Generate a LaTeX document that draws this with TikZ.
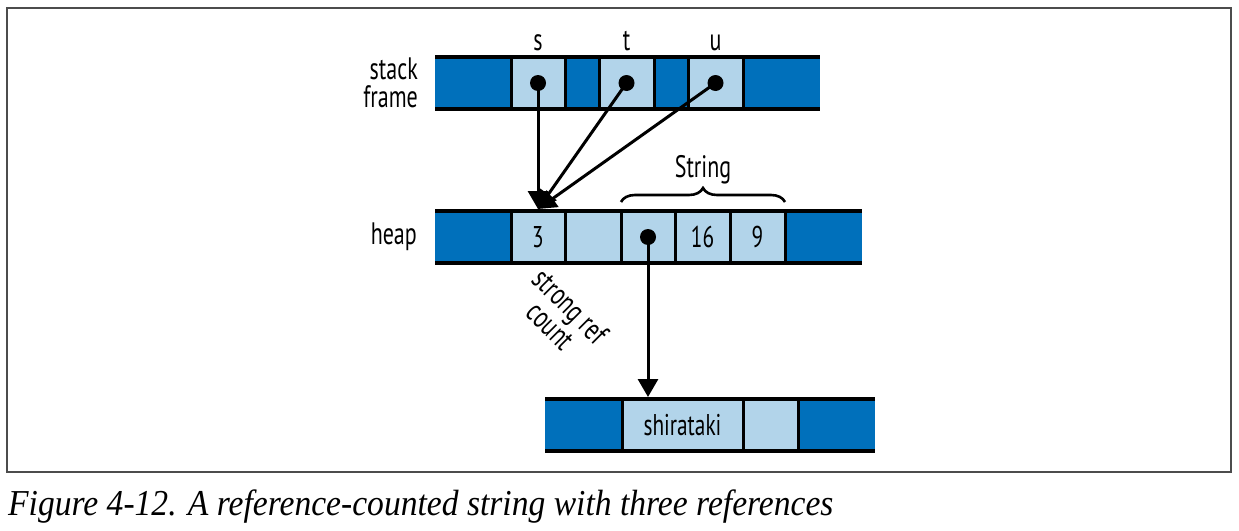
\documentclass[tikz,border=0pt]{standalone}
\usepackage{fontspec}
\setmainfont{PT Sans}[FakeStretch=0.71]
\newfontfamily\capfont{Liberation Serif}[FakeStretch=0.92]
\usepackage{tikz}
\usetikzlibrary{arrows.meta,positioning,decorations.pathreplacing,calc}
\definecolor{cellDark}{HTML}{0070BB}
\definecolor{cellLight}{HTML}{B2D4EA}

\begin{document}
\begin{tikzpicture}[x=1pt,y=-1pt,
  node distance=0pt,
  cell/.style={minimum height=52pt,inner sep=0pt,outer sep=0pt,
    font=\fontsize{30}{32}\selectfont},
  dk/.style={cell,fill=cellDark},
  lt/.style={cell,fill=cellLight},
  rowline/.style={line width=3.3pt},
  sep/.style={line width=3pt},
  dot/.style={circle,fill=black,inner sep=0pt,minimum size=16pt},
  arr/.style={-{Triangle[length=18pt,width=20pt]},line width=3pt},
  lbl/.style={font=\fontsize{31}{28}\selectfont,inner sep=0pt}]
\useasboundingbox (0,0) rectangle (1239,530);
\draw[black!70,line width=1.3pt] (7,8) rectangle (1231,472);

% stack frame
\node[dk,minimum width=76pt,anchor=west] (s0) at (435,83) {};
\node[lt,minimum width=54pt,right=of s0] (s1) {};
\node[dk,minimum width=34pt,right=of s1] (s2) {};
\node[lt,minimum width=55pt,right=of s2] (s3) {};
\node[dk,minimum width=34pt,right=of s3] (s4) {};
\node[lt,minimum width=55pt,right=of s4] (s5) {};
\node[dk,minimum width=77pt,right=of s5] (s6) {};
\draw[rowline] (s0.north west) -- (s6.north east);
\draw[rowline] (s0.south west) -- (s6.south east);
\foreach \c in {s1,s2,s3,s4,s5,s6}
  \draw[sep] (\c.north west) -- (\c.south west);
\node[lbl,align=right,left=17pt of s0] (stk) {stack\\frame};
\node[lbl,anchor=base] (ls) at ([yshift=7pt]s1.north) {s};
\node[lbl,anchor=base] (lt) at ([yshift=7pt]s3.north) {t};
\node[lbl,anchor=base] (lu) at ([yshift=7pt]s5.north) {u};

% heap
\node[dk,minimum width=76pt,anchor=west] (h0) at (435,237) {};
\node[lt,minimum width=54pt,right=of h0] (h1) {3};
\node[lt,minimum width=56pt,right=of h1] (h2) {};
\node[lt,minimum width=54pt,right=of h2] (h3) {};
\node[lt,minimum width=55pt,right=of h3] (h4) {16};
\node[lt,minimum width=55pt,right=of h4] (h5) {9};
\node[dk,minimum width=77pt,right=of h5] (h6) {};
\draw[rowline] (h0.north west) -- (h6.north east);
\draw[rowline] (h0.south west) -- (h6.south east);
\foreach \c in {h1,h2,h3,h4,h5,h6}
  \draw[sep] (\c.north west) -- (\c.south west);
\node[lbl,left=18pt of h0] (hp) {heap};
\node[lbl,align=center,rotate=-45] (src) at (561,316) {strong ref\\count};

% string buffer
\node[dk,minimum width=77pt,anchor=west] (b0) at (545,425) {};
\node[lt,minimum width=121pt,right=of b0] (b1) {shirataki};
\node[lt,minimum width=55pt,right=of b1] (b2) {};
\node[dk,minimum width=77pt,right=of b2] (b3) {};
\draw[rowline] (b0.north west) -- (b3.north east);
\draw[rowline] (b0.south west) -- (b3.south east);
\foreach \c in {b1,b2,b3}
  \draw[sep] (\c.north west) -- (\c.south west);

% pointers
\node[dot] (ps) at (s1.center) {};
\node[dot] (pt) at (s3.center) {};
\node[dot] (pu) at (s5.center) {};
\node[dot] (ph) at (h3.center) {};
\coordinate (rc) at ($(h1.north)+(0,-2)$);
\draw[arr] (ps.center) -- (rc);
\draw[arr] (pt.center) -- (rc);
\draw[arr] (pu.center) -- (rc);
\draw[arr] (ph.center) -- ($(ph.center |- b1.north)+(0,-2)$);

% String brace
\draw[line width=2.6pt,decorate,decoration={brace,amplitude=14pt}]
  ($(h3.north west)+(0,-9)$) -- ($(h5.north east)+(0,-9)$)
  node[lbl,midway,anchor=base,yshift=25pt] (str) {String};

\node[anchor=base west,inner sep=0pt,font=\capfont\itshape\fontsize{36.5}{40}\selectfont] (cap)
  at (8,515) {Figure 4-12. A reference-counted string with three references};
\end{tikzpicture}
\end{document}
